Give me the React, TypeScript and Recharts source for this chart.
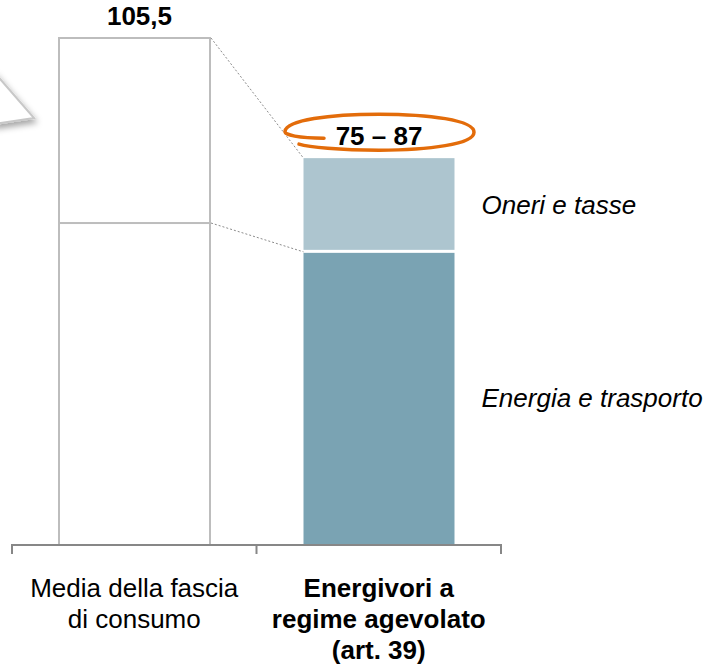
import { Bar, BarChart, LabelList, XAxis, YAxis } from 'recharts';

const categories = ['Media della fascia di consumo', 'Energivori a regime agevolato (art. 39)'];
const tickLines = [['Media della fascia', 'di consumo'], ['Energivori a', 'regime agevolato', '(art. 39)']];
const energiaTrasporto = [67, 61];
const oneriTasse = [38.5, 19.5];
const totalLabels = ['105,5', '75 – 87'];
const seriesNames = ['Energia e trasporto', 'Oneri e tasse'];

const data = categories.map((name, i) => ({
    name,
    energia: energiaTrasporto[i],
    oneri: oneriTasse[i],
}));

const CHART_W = 708;
const CHART_H = 667;
const MARGIN = { top: 38, right: 207, bottom: 0, left: 12 };
const BAND_W = (CHART_W - MARGIN.left - MARGIN.right) / categories.length;
const FONT = "'Liberation Sans', Arial, sans-serif";

const COLORS = {
    energia: '#7aa3b3',
    oneri: '#adc5cf',
    outline: '#bdbdbd',
    connector: '#8c8c8c',
    axis: '#878787',
    ring: '#e36c0a',
};

// bar segments; the first bar is an outline and carries the dotted connector to the second one
function EnergiaShape(props: any) {
    const { x, y, width, height, index } = props;
    if (index === 0) {
        const px = height / energiaTrasporto[0];
        const base = y + height;
        const ty = base - energiaTrasporto[1] * px;
        return (
            <g>
                <rect x={x} y={y} width={width} height={height} fill="#fff" stroke={COLORS.outline} strokeWidth={2} />
                <line x1={x + width + 1} y1={y} x2={x + BAND_W} y2={ty} stroke={COLORS.connector} strokeWidth={1} strokeDasharray="2 2" />
            </g>
        );
    }
    return <rect x={x} y={y + 1} width={width} height={height - 1} fill={COLORS.energia} />;
}

function OneriShape(props: any) {
    const { x, y, width, height, index } = props;
    if (index === 0) {
        const px = height / oneriTasse[0];
        const base = y + height + energiaTrasporto[0] * px;
        const ty = base - (energiaTrasporto[1] + oneriTasse[1]) * px;
        return (
            <g>
                <rect x={x} y={y} width={width} height={height} fill="#fff" stroke={COLORS.outline} strokeWidth={2} />
                <line x1={x + width + 1} y1={y} x2={x + BAND_W} y2={ty} stroke={COLORS.connector} strokeWidth={1} strokeDasharray="2 2" />
            </g>
        );
    }
    return <rect x={x} y={y} width={width} height={height - 2} fill={COLORS.oneri} />;
}

function SideLabel(name: string) {
    return (props: any) => {
        const { x, y, width, height, index } = props;
        if (index !== 1) return null;
        return (
            <text x={x + width + 27} y={y + height / 2 + 9} fontSize={26} fontStyle="italic" fontFamily={FONT} fill="#000">
                {name}
            </text>
        );
    };
}

function TotalLabel(props: any) {
    const { x, y, width, index } = props;
    const cx = x + width / 2;
    if (index === 0) {
        return (
            <text x={cx + 5} y={y - 13} textAnchor="middle" fontSize={26} fontWeight="bold" fontFamily={FONT} fill="#000">
                {totalLabels[0]}
            </text>
        );
    }
    const cy = y - 26;
    const ring = `M ${cx - 55} ${cy + 6}
        C ${cx - 80} ${cy + 6} ${cx - 95} ${cy + 3} ${cx - 94} ${cy - 1}
        C ${cx - 92} ${cy - 12} ${cx - 50} ${cy - 18} ${cx} ${cy - 18}
        C ${cx + 50} ${cy - 18} ${cx + 95} ${cy - 12} ${cx + 95} ${cy}
        C ${cx + 95} ${cy + 12} ${cx + 50} ${cy + 18} ${cx} ${cy + 18}
        C ${cx - 40} ${cy + 18} ${cx - 70} ${cy + 15} ${cx - 80} ${cy + 12}`;
    return (
        <g>
            <text x={cx} y={y - 13} textAnchor="middle" fontSize={26} fontWeight="bold" fontFamily={FONT} fill="#000">
                {totalLabels[1]}
            </text>
            <path d={ring} fill="none" stroke={COLORS.ring} strokeWidth={3.5} strokeLinecap="round" />
        </g>
    );
}

function CategoryTick(props: any) {
    const { x, y, index } = props;
    const lines = tickLines[index] || [];
    const left = x - BAND_W / 2;
    const right = x + BAND_W / 2;
    return (
        <g>
            <line x1={left} y1={y - 1} x2={left} y2={y + 9} stroke={COLORS.axis} strokeWidth={2} />
            {index === categories.length - 1 && (
                <line x1={right} y1={y - 1} x2={right} y2={y + 9} stroke={COLORS.axis} strokeWidth={2} />
            )}
            <text textAnchor="middle" fontSize={26} fontFamily={FONT} fontWeight={index === 1 ? 'bold' : 'normal'} fill="#000">
                {lines.map((line, i) => (
                    <tspan key={i} x={x} y={y + 52 + i * 31}>
                        {line}
                    </tspan>
                ))}
            </text>
        </g>
    );
}

export default function App() {
    return (
        <div style={{ position: 'absolute', left: 0, top: 0, width: CHART_W, height: CHART_H, background: '#fff' }}>
            <BarChart width={CHART_W} height={CHART_H} data={data} margin={MARGIN} barSize={151}>
                <XAxis
                    dataKey="name"
                    height={122}
                    interval={0}
                    tickLine={false}
                    tickSize={0}
                    tickMargin={0}
                    axisLine={{ stroke: COLORS.axis, strokeWidth: 2 }}
                    tick={<CategoryTick />}
                />
                <YAxis hide domain={[0, 105.5]} />
                <Bar dataKey="energia" stackId="a" name={seriesNames[0]} shape={<EnergiaShape />} isAnimationActive={false}>
                    <LabelList dataKey="energia" content={SideLabel(seriesNames[0])} />
                </Bar>
                <Bar dataKey="oneri" stackId="a" name={seriesNames[1]} shape={<OneriShape />} isAnimationActive={false}>
                    <LabelList dataKey="oneri" content={SideLabel(seriesNames[1])} />
                    <LabelList dataKey="oneri" content={TotalLabel} />
                </Bar>
            </BarChart>
            <svg width={60} height={160} style={{ position: 'absolute', left: 0, top: 0 }}>
                <defs>
                    <filter id="tipShadow" x="-50%" y="-50%" width="200%" height="200%">
                        <feDropShadow dx={2} dy={4} stdDeviation={3} floodColor="#000" floodOpacity={0.35} />
                    </filter>
                </defs>
                <polygon points="-6,72 34,118 -6,124" fill="#fff" stroke="#c8c8c8" strokeWidth={2} filter="url(#tipShadow)" />
            </svg>
        </div>
    );
}
